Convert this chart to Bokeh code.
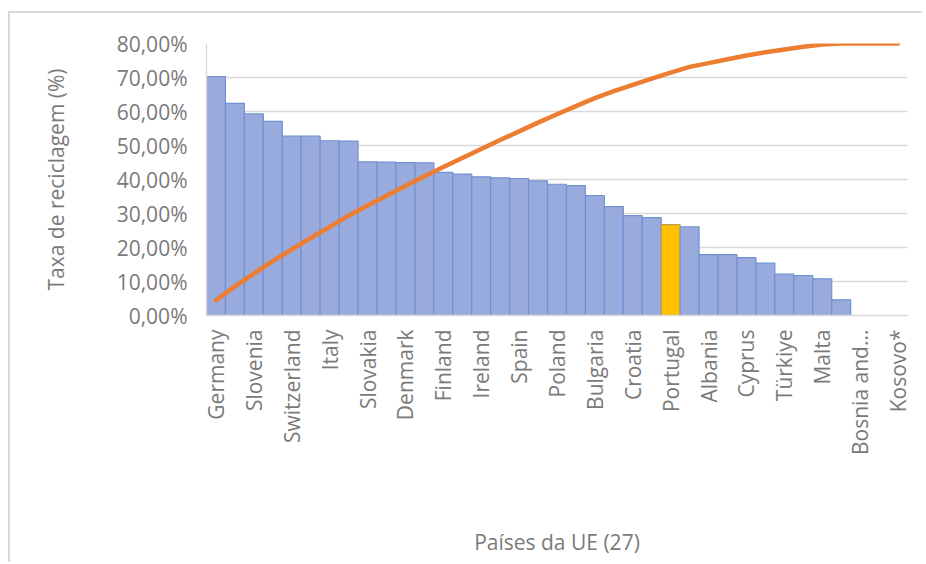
import math
from bokeh.plotting import figure
from bokeh.models import Range1d, FixedTicker, ColumnDataSource
from bokeh.embed import file_html
from bokeh.resources import INLINE

# ---- data ----
countries = [
    "Germany", "Austria", "Slovenia", "Netherlands", "Switzerland", "Belgium",
    "Italy", "Luxembourg", "Slovakia", "Lithuania", "Denmark", "France",
    "Finland", "Sweden", "Ireland", "Norway", "Spain", "Czechia",
    "Poland", "Latvia", "Bulgaria", "Hungary", "Croatia", "Estonia",
    "Portugal", "Iceland", "Albania", "Greece", "Cyprus", "Serbia",
    "Türkiye", "Romania", "Malta", "North Macedonia", "Bosnia and Herzegovina",
    "Montenegro", "Kosovo*",
]
recycling_rate = [
    70.3, 62.4, 59.3, 57.1, 52.8, 52.8,
    51.4, 51.3, 45.2, 45.1, 44.95, 44.9,
    42.1, 41.6, 40.8, 40.5, 40.3, 39.6,
    38.6, 38.2, 35.25, 32.0, 29.4, 28.8,
    26.7, 26.1, 17.9, 17.9, 17.0, 15.4,
    12.2, 11.75, 10.8, 4.6, 0.0,
    0.0, 0.0,
]
cumulative_pct = [
    5.6, 10.7, 15.4, 20.0, 24.3, 28.5,
    32.6, 36.7, 40.4, 44.0, 47.6, 51.2,
    54.6, 57.9, 61.2, 64.5, 67.7, 70.9,
    74.0, 77.0, 79.9, 82.5, 84.8, 87.1,
    89.3, 91.4, 92.8, 94.2, 95.6, 96.8,
    97.8, 98.8, 99.6, 100.0, 100.0,
    100.0, 100.0,
]
highlight = "Portugal"
y_ticks = [0, 10, 20, 30, 40, 50, 60, 70, 80]
y_tick_labels = ["0,00%", "10,00%", "20,00%", "30,00%", "40,00%",
                 "50,00%", "60,00%", "70,00%", "80,00%"]
y_title = "Taxa de reciclagem (%)"
x_title = "Países da UE (27)"

FONT = "Open Sans"
FS = "21px"
TXT = "#7A7A7A"
GRID = "#D9D9D9"
BAR = "#98ABDC"
BAR_LINE = "#7092D2"
HL = "#FFC000"
HL_LINE = "#B8A05A"
LINE = "#ED7D31"

positions = list(range(1, len(countries) + 1))
fills = [HL if c == highlight else BAR for c in countries]
outlines = [HL_LINE if c == highlight else BAR_LINE for c in countries]

def short(name):
    return name if len(name) <= 14 else name[:10] + "..."

src = ColumnDataSource(dict(x=positions, top=recycling_rate, fill=fills,
                            line=outlines, cum=cumulative_pct))

W, H = 922, 562
p = figure(width=W, height=H, output_backend="svg", toolbar_location=None,
           x_range=Range1d(0.5, len(countries) + 0.5), y_range=Range1d(0, 80),
           min_border_left=206, min_border_right=W - 907, min_border_top=43,
           min_border_bottom=H - 315)
p.extra_y_ranges = {"cum": Range1d(0, 100)}

p.outline_line_color = None
p.background_fill_color = "white"
p.border_fill_color = None
p.styles = {
    "background": ("linear-gradient(#D9D9D9,#D9D9D9) 8px 11px / 2px 100% no-repeat, "
                   "linear-gradient(#D9D9D9,#D9D9D9) 8px 11px / 100% 2px no-repeat, "
                   "white"),
}

p.vbar(x="x", top="top", width=1.0, bottom=0, source=src,
       fill_color="fill", line_color="line", line_width=1.2)
p.line(x="x", y="cum", source=src, y_range_name="cum",
       line_color=LINE, line_width=4.5, line_cap="round", line_join="round")

# grid
p.xgrid.visible = False
p.ygrid.grid_line_color = GRID
p.ygrid.grid_line_width = 1.3
p.ygrid.ticker = FixedTicker(ticks=y_ticks)

# y axis
ya = p.yaxis[0]
ya.ticker = FixedTicker(ticks=y_ticks)
ya.major_label_overrides = {t: l for t, l in zip(y_ticks, y_tick_labels)}
ya.axis_line_color = GRID
ya.axis_line_width = 1.3
ya.major_tick_line_color = None
ya.minor_tick_line_color = None
ya.major_tick_out = 0
ya.major_label_standoff = 19
ya.major_label_text_font = FONT
ya.major_label_text_font_size = FS
ya.major_label_text_color = TXT
ya.axis_label = y_title
ya.axis_label_text_font = FONT
ya.axis_label_text_font_size = FS
ya.axis_label_text_font_style = "normal"
ya.axis_label_text_color = TXT
ya.axis_label_standoff = 44

# x axis
xa = p.xaxis[0]
label_pos = positions[::2]
xa.ticker = FixedTicker(ticks=label_pos)
xa.major_label_overrides = {x: short(countries[x - 1]) for x in label_pos}
xa.major_label_orientation = math.pi / 2
xa.axis_line_color = GRID
xa.axis_line_width = 1.3
xa.major_tick_line_color = None
xa.minor_tick_line_color = None
xa.major_tick_out = 0
xa.major_label_standoff = 14
xa.major_label_text_font = FONT
xa.major_label_text_font_size = FS
xa.major_label_text_color = TXT
xa.axis_label = x_title
xa.axis_label_text_font = FONT
xa.axis_label_text_font_size = FS
xa.axis_label_text_font_style = "normal"
xa.axis_label_text_color = TXT
xa.axis_label_standoff = 70

open("out.html", "w").write(file_html(p, INLINE))
